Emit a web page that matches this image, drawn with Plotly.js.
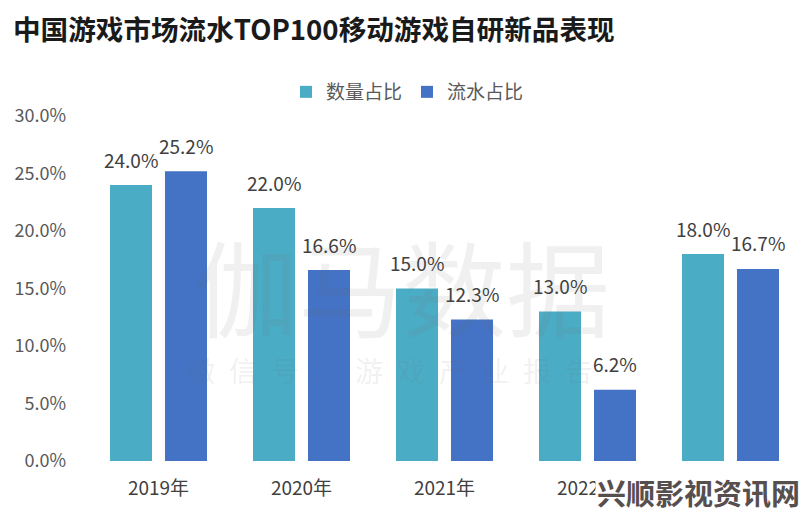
<!DOCTYPE html>
<html>
<head>
<meta charset="utf-8">
<script src="https://cdn.plot.ly/plotly-3.0.1.min.js"></script>
<style>html,body{margin:0;padding:0;background:#fff;}#chart{width:807px;height:516px;}</style>
</head>
<body>
<div id="chart"></div>
<script>
const categories = ['2019年', '2020年', '2021年', '2022年', '2023年'];
const countShare = [24.0, 22.0, 15.0, 13.0, 18.0];
const revenueShare = [25.2, 16.6, 12.3, 6.2, 16.7];
const seriesNames = ['数量占比', '流水占比'];
const yTickVals = [0, 5, 10, 15, 20, 25, 30];
const yTickText = ['0.0%', '5.0%', '10.0%', '15.0%', '20.0%', '25.0%', '30.0%'];

const FONT = '"Noto Sans CJK SC", "Noto Sans", sans-serif';
const colors = ['#4BACC6', '#4472C4'];

const traces = [countShare, revenueShare].map((vals, i) => ({
  type: 'bar',
  name: seriesNames[i],
  x: categories,
  y: vals,
  marker: {color: colors[i]},
  hoverinfo: 'skip'
}));

const annotations = [];
[countShare, revenueShare].forEach((vals, i) => {
  vals.forEach((v, j) => {
    annotations.push({
      x: categories[j], y: v, xref: 'x', yref: 'y',
      text: v.toFixed(1) + '%',
      showarrow: false,
      xshift: i === 0 ? -27.5 : 27.5,
      yshift: 26,
      yanchor: 'middle',
      font: {family: FONT, size: 19, color: '#404040'}
    });
  });
});

// faint background watermark
annotations.push({
  xref: 'paper', yref: 'paper', x: 0.4406, y: 0.513,
  text: '伽马数据', showarrow: false,
  xanchor: 'center', yanchor: 'middle',
  font: {family: FONT, size: 104, color: 'rgba(110,110,110,0.10)'}
});
annotations.push({
  xref: 'paper', yref: 'paper', x: 0.424, y: 0.264,
  text: ['微','信','号','：','游','戏','产','业','报','告'].join('\u2002'),
  showarrow: false,
  xanchor: 'center', yanchor: 'middle',
  font: {family: FONT, size: 28, color: 'rgba(110,110,110,0.10)'}
});
// site watermark at the bottom right
annotations.push({
  xref: 'paper', yref: 'paper', x: 1.0, y: -0.0899,
  text: '<b>兴顺影视资讯网</b>', showarrow: false,
  xanchor: 'right', yanchor: 'middle',
  bgcolor: '#ffffff', borderpad: 1,
  font: {family: FONT, size: 29, color: '#574e4e'}
});

const layout = {
  width: 807, height: 516,
  margin: {l: 87, r: 5, t: 116, b: 55},
  paper_bgcolor: '#ffffff', plot_bgcolor: '#ffffff',
  barmode: 'group',
  bargap: 0.231,
  bargroupgap: 0.236,
  title: {
    text: '<b>中国游戏市场流水TOP100移动游戏自研新品表现</b>',
    x: 13 / 807, xanchor: 'left', xref: 'container',
    y: 1 - 30 / 516, yanchor: 'middle', yref: 'container',
    font: {family: FONT, size: 27.6, color: '#1a1a1a'}
  },
  showlegend: true,
  legend: {
    orientation: 'h',
    xref: 'container', yref: 'container',
    x: 286 / 807, xanchor: 'left',
    y: 1 - 92 / 516, yanchor: 'middle',
    font: {family: FONT, size: 19, color: '#595959'},
    itemclick: false, itemdoubleclick: false
  },
  xaxis: {
    type: 'category',
    range: [-0.5, 4.5],
    showgrid: false, zeroline: false, showline: false,
    ticks: '',
    ticklabelstandoff: 14,
    tickfont: {family: FONT, size: 19, color: '#404040'},
    fixedrange: true
  },
  yaxis: {
    range: [0, 30],
    tickvals: yTickVals,
    ticktext: yTickText,
    showgrid: false, zeroline: false, showline: false,
    ticks: '',
    ticklabelstandoff: 20,
    tickfont: {family: FONT, size: 18, color: '#595959'},
    fixedrange: true
  },
  annotations: annotations
};

Plotly.newPlot('chart', traces, layout, {displayModeBar: false, staticPlot: true});
</script>
</body>
</html>
